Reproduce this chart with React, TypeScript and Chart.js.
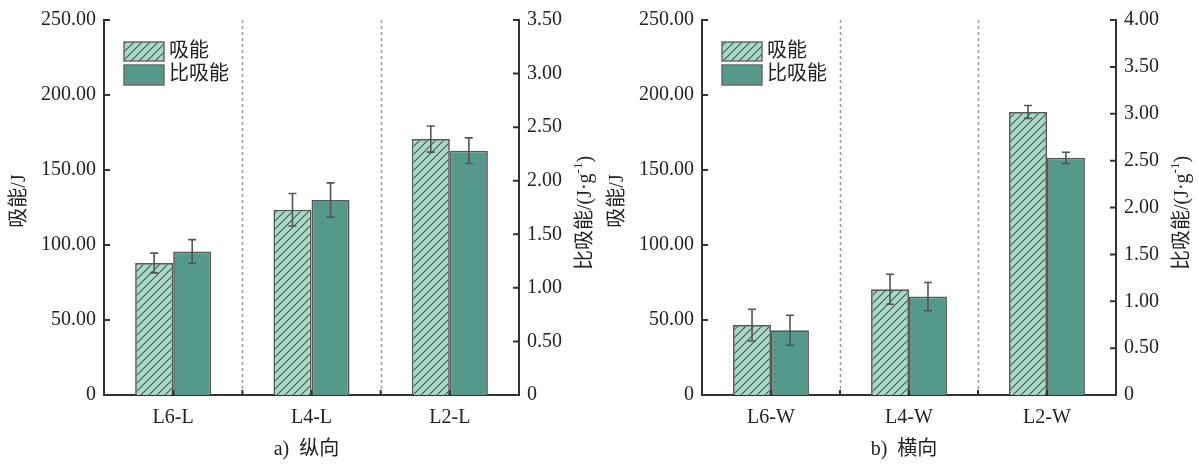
import React, { useEffect, useRef } from "react";
import { Chart, registerables } from "chart.js";

Chart.register(...registerables);

// Longitudinal specimens
const catsA = ["L6-L", "L4-L", "L2-L"];
const energyA = [88.0, 123.5, 170.6];
const energyErrA = [6.6, 10.8, 8.7];
const seaA = [1.34, 1.82, 2.28];
const seaErrA = [0.11, 0.16, 0.12];

// Transverse specimens
const catsB = ["L6-W", "L4-W", "L2-W"];
const energyB = [46.6, 70.5, 188.7];
const energyErrB = [10.6, 10.0, 4.3];
const seaB = [0.69, 1.05, 2.53];
const seaErrB = [0.16, 0.15, 0.06];

const seriesLabels = ["吸能", "比吸能"];
const leftTitle = "吸能/J";
const rightTitleMain = "比吸能/(J·g";
const rightTitleSup = "-1";
const rightTitleEnd = ")";

const FONT = '"Liberation Serif", "Noto Sans CJK SC", serif';
const TEXT = "#222";
const AXIS = "#333";
const BAR_EDGE = "#585858";
const LIGHT = "#a8dac8";
const DARK = "#54998a";
const HATCH = "#4f5a56";

function makeHatch(ctx: CanvasRenderingContext2D) {
  const s = 8;
  const c = document.createElement("canvas");
  c.width = s;
  c.height = s;
  const g = c.getContext("2d")!;
  g.fillStyle = LIGHT;
  g.fillRect(0, 0, s, s);
  g.strokeStyle = HATCH;
  g.lineWidth = 1.2;
  g.beginPath();
  g.moveTo(-1, s + 1);
  g.lineTo(s + 1, -1);
  g.moveTo(-3, 3);
  g.lineTo(3, -3);
  g.moveTo(s - 3, s + 3);
  g.lineTo(s + 3, s - 3);
  g.stroke();
  return ctx.createPattern(c, "repeat")!;
}

type PanelProps = {
  cats: string[];
  energy: number[];
  energyErr: number[];
  sea: number[];
  seaErr: number[];
  seaMax: number;
  caption: string;
  leftW: number;
  rightW: number;
  width: number;
  left: number;
};

function Panel(p: PanelProps) {
  const ref = useRef<HTMLCanvasElement | null>(null);

  useEffect(() => {
    const canvas = ref.current!;
    const ctx = canvas.getContext("2d")!;
    const hatch = makeHatch(ctx);
    const errs = [p.energyErr, p.seaErr];

    const numLabel = (v: any) => (Number(v) === 0 ? "0" : Number(v).toFixed(2));

    const decor = {
      id: "decor",
      beforeDatasetsDraw(chart: any) {
        const { ctx: c, chartArea: a, scales } = chart;
        const x = scales.x;
        c.save();
        c.strokeStyle = "#9a9a9a";
        c.lineWidth = 1.5;
        c.setLineDash([3, 3]);
        for (let i = 0; i < p.cats.length - 1; i++) {
          const xb = Math.round((x.getPixelForValue(i) + x.getPixelForValue(i + 1)) / 2) + 0.5;
          c.beginPath();
          c.moveTo(xb, a.top);
          c.lineTo(xb, a.bottom);
          c.stroke();
        }
        c.restore();
      },
      afterDatasetsDraw(chart: any) {
        const { ctx: c } = chart;
        c.save();
        c.strokeStyle = "#555";
        c.lineWidth = 1.6;
        chart.data.datasets.forEach((ds: any, i: number) => {
          const meta = chart.getDatasetMeta(i);
          const sc = chart.scales[ds.yAxisID];
          ds.data.forEach((v: number, j: number) => {
            const e = errs[i][j];
            const xc = meta.data[j].x;
            const yt = sc.getPixelForValue(v + e);
            const yb = sc.getPixelForValue(v - e);
            c.beginPath();
            c.moveTo(xc, yt);
            c.lineTo(xc, yb);
            c.moveTo(xc - 4, yt);
            c.lineTo(xc + 4, yt);
            c.moveTo(xc - 4, yb);
            c.lineTo(xc + 4, yb);
            c.stroke();
          });
        });
        c.restore();
      },
      afterDraw(chart: any) {
        const { ctx: c, chartArea: a, scales } = chart;
        c.save();
        // inward tick marks
        c.strokeStyle = AXIS;
        c.lineWidth = 2;
        c.beginPath();
        scales.y.ticks.forEach((t: any) => {
          const yy = scales.y.getPixelForValue(t.value);
          c.moveTo(a.left, yy);
          c.lineTo(a.left + 6, yy);
        });
        scales.y1.ticks.forEach((t: any) => {
          const yy = scales.y1.getPixelForValue(t.value);
          c.moveTo(a.right, yy);
          c.lineTo(a.right - 6, yy);
        });
        for (let i = 0; i < p.cats.length; i++) {
          const xc = scales.x.getPixelForValue(i);
          c.moveTo(xc, a.bottom);
          c.lineTo(xc, a.bottom - 5);
          if (i < p.cats.length - 1) {
            const xb = (xc + scales.x.getPixelForValue(i + 1)) / 2;
            c.moveTo(xb, a.bottom);
            c.lineTo(xb, a.bottom - 5);
          }
        }
        c.stroke();

        // axis titles
        c.fillStyle = TEXT;
        c.textBaseline = "middle";
        c.font = `20px ${FONT}`;
        c.save();
        c.translate(a.left - 84, 201);
        c.rotate(-Math.PI / 2);
        c.textAlign = "center";
        c.fillText(leftTitle, 0, 0);
        c.restore();

        c.save();
        c.translate(a.right + 67, 213);
        c.rotate(-Math.PI / 2);
        c.textAlign = "left";
        c.font = `20px ${FONT}`;
        const w1 = c.measureText(rightTitleMain).width;
        const w3 = c.measureText(rightTitleEnd).width;
        c.font = `13px ${FONT}`;
        const w2 = c.measureText(rightTitleSup).width;
        const start = -(w1 + w2 + w3) / 2;
        c.font = `20px ${FONT}`;
        c.fillText(rightTitleMain, start, 0);
        c.font = `13px ${FONT}`;
        c.fillText(rightTitleSup, start + w1, -7);
        c.font = `20px ${FONT}`;
        c.fillText(rightTitleEnd, start + w1 + w2, 0);
        c.restore();

        // legend
        const lx = a.left + 20;
        c.lineWidth = 1.5;
        c.strokeStyle = "#6a6a6a";
        c.fillStyle = hatch;
        c.fillRect(lx, 42, 40, 19);
        c.strokeRect(lx, 42, 40, 19);
        c.fillStyle = DARK;
        c.fillRect(lx, 65, 40, 20);
        c.strokeRect(lx, 65, 40, 20);
        c.fillStyle = TEXT;
        c.textAlign = "left";
        c.font = `20px ${FONT}`;
        c.fillText(chart.data.datasets[0].label, lx + 45, 52);
        c.fillText(chart.data.datasets[1].label, lx + 45, 75);

        // caption
        c.textAlign = "center";
        c.fillText(p.caption, (a.left + a.right) / 2 - 5, 450);
        c.restore();
      },
    };

    const tickFont = { family: FONT, size: 20 };
    const border = { display: true, color: AXIS, width: 2 };

    const chart = new Chart(canvas, {
      type: "bar",
      data: {
        labels: p.cats,
        datasets: [
          {
            label: seriesLabels[0],
            data: p.energy,
            yAxisID: "y",
            backgroundColor: hatch as any,
            borderColor: BAR_EDGE,
            borderWidth: 1.7,
            categoryPercentage: 0.55,
            barPercentage: 1,
          },
          {
            label: seriesLabels[1],
            data: p.sea,
            yAxisID: "y1",
            backgroundColor: DARK,
            borderColor: BAR_EDGE,
            borderWidth: 1.7,
            categoryPercentage: 0.55,
            barPercentage: 1,
          },
        ],
      },
      options: {
        animation: false,
        responsive: false,
        layout: { padding: { top: 18, left: 0, right: 0, bottom: 0 } },
        plugins: { legend: { display: false }, tooltip: { enabled: false } },
        scales: {
          x: {
            grid: { display: false, drawTicks: false },
            border,
            ticks: { font: tickFont, color: TEXT, padding: 11 },
            afterFit: (s: any) => {
              s.height = 69;
            },
          },
          y: {
            position: "left",
            min: 0,
            max: 250,
            grid: { display: false, drawTicks: false },
            border,
            ticks: { stepSize: 50, font: tickFont, color: TEXT, padding: 8, callback: numLabel },
            afterFit: (s: any) => {
              s.width = p.leftW;
            },
          },
          y1: {
            position: "right",
            min: 0,
            max: p.seaMax,
            grid: { display: false, drawTicks: false },
            border,
            ticks: { stepSize: 0.5, font: tickFont, color: TEXT, padding: 8, callback: numLabel },
            afterFit: (s: any) => {
              s.width = p.rightW;
            },
          },
        },
      } as any,
      plugins: [decor],
    });
    return () => chart.destroy();
  }, []);

  return (
    <canvas
      ref={ref}
      width={p.width}
      height={464}
      style={{ position: "absolute", left: p.left, top: 0, width: p.width, height: 464 }}
    />
  );
}

export default function App() {
  return (
    <div style={{ position: "absolute", left: 0, top: 0, width: 1199, height: 464, background: "#fff" }}>
      <Panel
        cats={catsA}
        energy={energyA}
        energyErr={energyErrA}
        sea={seaA}
        seaErr={seaErrA}
        seaMax={3.5}
        caption="a)  纵向"
        leftW={104}
        rightW={81}
        width={600}
        left={0}
      />
      <Panel
        cats={catsB}
        energy={energyB}
        energyErr={energyErrB}
        sea={seaB}
        seaErr={seaErrB}
        seaMax={4}
        caption="b)  横向"
        leftW={102}
        rightW={83}
        width={599}
        left={600}
      />
    </div>
  );
}
